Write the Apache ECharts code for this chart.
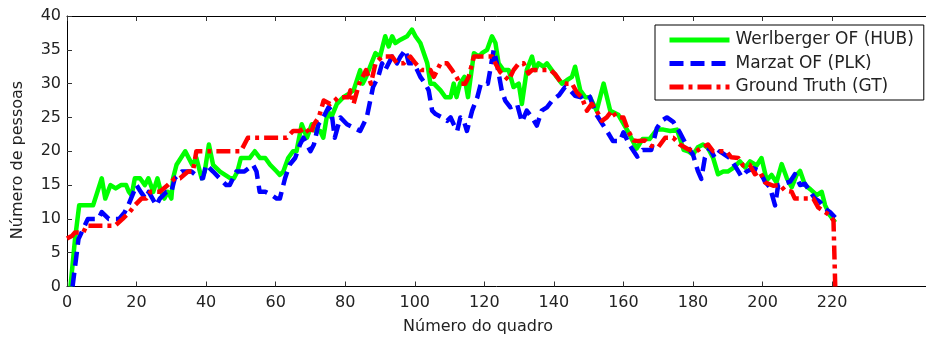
<!DOCTYPE html>
<html>
<head>
<meta charset="utf-8">
<script src="https://cdn.jsdelivr.net/npm/echarts@6/dist/echarts.min.js"></script>
<style>
html,body{margin:0;padding:0;background:#fff;}
#chart{width:926px;height:340px;}
</style>
</head>
<body>
<div id="chart"></div>
<script>
// ---- data ----
var xTicks = [0, 20, 40, 60, 80, 100, 120, 140, 160, 180, 200, 220];
var seriesNames = ['Werlberger OF (HUB)', 'Marzat OF (PLK)', 'Ground Truth (GT)'];

var hubFrames = [1, 2.3, 3.5, 7.5, 10, 11, 12.5, 14, 15.5, 17, 17.8, 18.6, 19.5, 21, 22.4, 23.4, 24.8, 26, 27, 28, 29, 30, 30.5, 31.5, 34, 36, 37.2, 38.7, 39.6, 40.8, 42, 44, 47, 48, 49, 50, 52.5, 54, 55.5, 57, 58.4, 60.3, 61.2, 62.2, 63.6, 65, 66, 67.5, 69, 70.4, 71.4, 72.8, 73.7, 75, 76, 77.6, 79.5, 81, 82.4, 84.3, 85, 86, 88.7, 90, 91.5, 92.5, 93.5, 94.4, 95.9, 97.8, 99.2, 100.2, 101.6, 103.6, 104.5, 105.5, 107.4, 108.8, 110.3, 111.2, 112, 113, 114.3, 115.3, 117, 118.4, 119.3, 120.8, 122.2, 123.2, 124.1, 125.5, 127, 128.4, 129.9, 130.8, 132.2, 133.7, 134.6, 135.6, 137, 138, 139.4, 140.8, 142.3, 143.7, 145.2, 146.1, 147.6, 149, 150.4, 152.3, 154.3, 156.2, 158.5, 161, 163.8, 165.5, 167.5, 169.6, 171.5, 173.5, 175.4, 177.3, 178.6, 180, 181.4, 182.9, 184.3, 185.8, 187.2, 188.7, 190, 191.5, 193.5, 195, 196.4, 198.3, 199.7, 201.2, 202.6, 204, 205.5, 207, 208.4, 209.8, 210.8, 212.2, 213.7, 215.6, 217, 218, 219.4, 220.9];
var hubValues = [0, 7, 12, 12, 16, 13, 15, 14.5, 15, 15, 14, 13.5, 16, 16, 15, 16, 14, 16, 14, 13, 14, 13, 16, 18, 20, 18, 19, 16, 17, 21, 18, 17, 16, 16, 17, 19, 19, 20, 19, 19, 18, 17, 16.5, 17, 19, 20, 20, 24, 22, 24, 23, 23, 22, 26, 25, 27, 28, 28.5, 29, 32, 30, 31, 34.5, 34, 37, 35.5, 37, 36, 36.5, 37, 38, 37, 36, 33, 30, 30, 29, 28, 28, 30, 28, 30, 31, 28, 34.5, 34, 34.5, 35, 37, 36, 33, 32, 32, 29.5, 30, 27, 32, 34, 32, 33, 32.5, 33, 32, 31, 30, 30.5, 31, 32.5, 29, 28, 28, 26, 30, 26, 25.4, 23.2, 20.4, 21.8, 21.8, 23.2, 23.2, 23, 23.2, 20.2, 20, 19.5, 20.6, 21, 20.5, 19, 16.6, 17, 17, 17.5, 18.5, 17.6, 18.5, 17.9, 19, 15.7, 16.5, 15.4, 18.1, 16, 14.7, 16.5, 17.1, 15, 14.4, 13.5, 14, 12, 10.5, 9.5];

var plkFrames = [1.6, 3.3, 4.2, 6, 9, 10, 12, 15, 16.6, 17.6, 20, 21.2, 22.6, 23.5, 25.7, 26.7, 28.6, 30, 31, 33, 35.8, 38.2, 39.1, 40, 42, 45.8, 46.8, 48.7, 51, 53.5, 54.5, 55.4, 57, 58.9, 60.3, 61.2, 62.7, 64, 65.6, 67, 68, 69, 70, 71, 72.3, 73.7, 75.2, 76, 77, 78.6, 80.5, 82.4, 84.3, 86.2, 88, 89.5, 90.6, 91.5, 92.5, 93.5, 94.9, 95.9, 97.3, 98.3, 99.7, 100.7, 101.6, 103, 104, 105, 106, 107.9, 109.3, 110.3, 111.2, 112.2, 113.1, 114.1, 115, 116.5, 118, 119, 121, 122.7, 123.6, 125, 126, 127.5, 129.4, 130.8, 132.2, 133.7, 135.1, 136.5, 138, 139.7, 141.5, 143.2, 144.7, 146.1, 147.6, 149.5, 150.4, 152, 154, 155.6, 157, 159, 160, 161.7, 164, 165.5, 168, 169.6, 171, 172.5, 174.4, 176.3, 178, 180, 181.4, 182.4, 183.4, 184.8, 186.3, 187.7, 189.1, 190.6, 192, 194, 195.4, 197.3, 199.2, 200.7, 202.1, 203.6, 204.5, 206, 207.9, 209.3, 210.8, 212.2, 213.7, 215.1, 216.5, 218, 219.4, 220.9];
var plkValues = [0, 7, 8, 10, 10, 11, 10, 10, 11, 12, 15, 14, 13, 14, 12, 13, 14, 14, 16, 17, 17, 16, 16, 18, 17, 15, 15, 17, 17, 18, 17, 14, 14, 13.5, 13, 13, 16, 18, 19, 21, 22, 21, 20, 21, 24, 25, 26.5, 26, 22, 25, 24, 23.5, 23, 25, 29.5, 31, 33, 32, 33, 34, 33, 34, 35, 33, 33, 32, 31, 30, 29, 26, 25.5, 25, 24.5, 25, 24, 23, 25, 24.5, 23, 26, 28, 30, 30, 35, 33, 29, 27.5, 26.5, 27, 24.3, 26, 25, 23.8, 26, 26.5, 27.6, 28.3, 29.5, 29, 28.2, 28, 28.5, 28, 25.6, 24, 22.7, 21.5, 21.5, 22.8, 21, 19.2, 20.2, 20.2, 23.4, 24.5, 25, 24.3, 22.7, 21, 19.5, 17.1, 15.9, 19, 20.5, 19, 20, 19.5, 19, 17.9, 16.2, 17, 17.5, 17.1, 15.5, 14.7, 12, 15, 15.2, 15.5, 16.6, 15, 15.2, 14, 13, 12.5, 11.5, 11, 10.2];

var gtFrames = [0, 1.5, 2.3, 4.7, 5.6, 13.8, 16, 18, 19.5, 21.4, 22.8, 24, 26.7, 29, 31, 32.5, 34.8, 36.2, 37.2, 42, 50, 52, 60.7, 63.2, 65, 67, 68.5, 70, 71, 72.4, 73.8, 75.7, 77, 78, 79.5, 81, 81.5, 82.4, 84, 86, 87.4, 88.7, 90.6, 93.5, 94.9, 96.8, 98.7, 100.2, 102, 104.5, 105.5, 107.4, 109.3, 110.7, 112, 113, 114.5, 115.5, 117, 118.9, 120.8, 122.2, 123.2, 124.6, 126, 127, 128.4, 129.9, 131.3, 132.7, 133.7, 135.6, 137, 139, 140.4, 142, 143.7, 145.2, 146.6, 148, 149.5, 150.9, 152.3, 153.8, 155.2, 156.7, 158, 160, 161.4, 162.9, 164.3, 166.2, 168, 170, 172, 174.3, 176.2, 178.6, 181, 182.4, 184.3, 185.8, 189.6, 191, 193, 194.4, 196.3, 197.8, 199.2, 200.7, 203.1, 205, 206.4, 208.4, 209.3, 212.7, 214.6, 216, 218, 219.4, 220.4, 220.9];
var gtValues = [7.1, 7.5, 8, 8, 9, 9, 10, 11, 12, 13, 13, 14, 14, 15, 16, 16, 17, 17, 20, 20, 20, 22, 22, 22, 23, 23, 23.5, 22.5, 24, 25, 27.5, 27, 27.5, 28, 28, 28, 29, 27, 30, 32, 30, 33, 34, 34, 33, 33, 34, 33, 32, 32, 31, 33, 33, 32, 31, 30, 30, 31, 34, 34, 34, 34, 33, 31.7, 31, 30.5, 32, 33, 33, 31.5, 32, 32, 32, 32, 31.4, 30.2, 30, 30, 28.7, 28, 26, 27, 26, 24.5, 25, 26, 25, 25, 23, 21.6, 21.5, 21.6, 20.8, 20.6, 22, 22, 21, 20.3, 20, 20.5, 21, 20, 20, 19.1, 19, 17.9, 18, 16.6, 17, 15.4, 14.9, 15, 14.2, 14, 13, 13, 13, 11.7, 11, 10.5, 9.75, 0];

function pairs(xs, ys) { return xs.map(function (x, i) { return [x, ys[i]]; }); }

var FONT = "'DejaVu Sans', 'Liberation Sans', sans-serif";
var chart = echarts.init(document.getElementById('chart'), null, { renderer: 'canvas' });

var axisLineStyle = { color: '#000', width: 1 };
var tickStyle = { color: '#333', width: 1 };

chart.setOption({
  animation: false,
  backgroundColor: '#fff',
  grid: { left: 67, right: 0, top: 16, bottom: 53.5, containLabel: false },
  legend: {
    orient: 'vertical',
    left: 655, top: 25,
    padding: [5, 10, 3, 12],
    itemWidth: 60, itemHeight: 14, itemGap: 3.5,
    borderColor: '#000', borderWidth: 1,
    backgroundColor: '#fff',
    itemStyle: { opacity: 0 },
    lineStyle: { width: 5 },
    textStyle: { fontFamily: FONT, fontSize: 17, lineHeight: 20, color: '#222', padding: [0, 0, 0, 1] },
    data: seriesNames
  },
  xAxis: [{
    type: 'value', min: 0, max: 247, position: 'bottom',
    axisLine: { show: true, onZero: false, lineStyle: axisLineStyle },
    axisTick: { show: true, inside: true, length: 5, lineStyle: tickStyle, customValues: xTicks },
    axisLabel: { show: true, customValues: xTicks, margin: 8, fontFamily: FONT, fontSize: 16, color: '#222' },
    splitLine: { show: false }
  }, {
    type: 'value', min: 0, max: 247, position: 'top',
    axisLine: { show: true, onZero: false, lineStyle: axisLineStyle },
    axisTick: { show: true, inside: true, length: 5, lineStyle: tickStyle, customValues: xTicks },
    axisLabel: { show: false },
    splitLine: { show: false }
  }],
  yAxis: {
    type: 'value', min: 0, max: 40, interval: 5,
    axisLine: { show: true, onZero: false, lineStyle: axisLineStyle },
    axisTick: { show: true, inside: true, length: 5, lineStyle: tickStyle },
    axisLabel: { margin: 6, fontFamily: FONT, fontSize: 16, color: '#222' },
    splitLine: { show: false }
  },
  graphic: [
    { type: 'text', x: 478, y: 327, style: { text: 'Número do quadro', fontFamily: FONT, fontSize: 16, fill: '#222', align: 'center', verticalAlign: 'middle' } },
    { type: 'text', x: 18, y: 160, rotation: Math.PI / 2, style: { text: 'Número de pessoas', fontFamily: FONT, fontSize: 16, fill: '#222', align: 'center', verticalAlign: 'middle' } }
  ],
  series: [{
    name: seriesNames[0], type: 'line', data: pairs(hubFrames, hubValues),
    showSymbol: false, symbol: 'none', color: '#00ff00',
    lineStyle: { color: '#00ff00', width: 4.5, type: 'solid', join: 'round' }
  }, {
    name: seriesNames[1], type: 'line', data: pairs(plkFrames, plkValues),
    showSymbol: false, symbol: 'none', color: '#0000ff',
    lineStyle: { color: '#0000ff', width: 4.5, type: [14, 7], cap: 'butt', join: 'round' }
  }, {
    name: seriesNames[2], type: 'line', data: pairs(gtFrames, gtValues),
    showSymbol: false, symbol: 'none', color: '#ff0000',
    lineStyle: { color: '#ff0000', width: 4.5, type: [14, 5, 4, 5], cap: 'butt', join: 'round' }
  }]
});
</script>
</body>
</html>
